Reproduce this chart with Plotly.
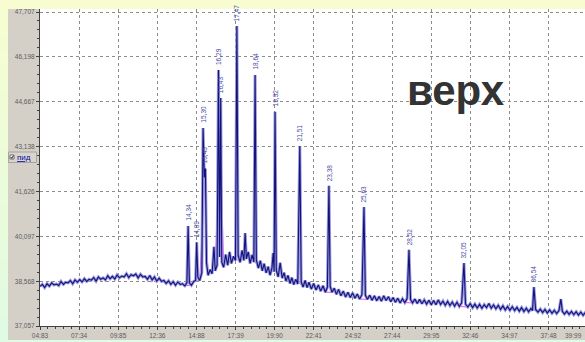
import plotly.graph_objects as go

# ---------------------------------------------------------------------------
# Chromatogram data: retention time (min) and detector signal
# ---------------------------------------------------------------------------
times = [
    4.83, 4.98, 5.13, 5.28, 5.43, 5.58, 5.73, 5.88, 6.03, 6.18, 6.33, 6.48, 6.63, 6.78, 6.93,
    7.08, 7.23, 7.38, 7.53, 7.68, 7.83, 7.98, 8.13, 8.28, 8.43, 8.58, 8.73, 8.88, 9.03, 9.18,
    9.33, 9.48, 9.63, 9.78, 9.93, 10.08, 10.23, 10.38, 10.53, 10.68, 10.83, 10.98, 11.13, 11.28,
    11.43, 11.58, 11.73, 11.88, 12.03, 12.18, 12.33, 12.48, 12.63, 12.78, 12.93, 13.08, 13.23,
    13.38, 13.53, 13.68, 13.83, 13.98, 14.13, 14.26, 14.34, 14.42, 14.55, 14.70, 14.82, 14.89,
    14.96, 15.08, 15.22, 15.30, 15.38, 15.45, 15.52, 15.62, 15.75, 15.88, 16.00, 16.08, 16.20,
    16.29, 16.36, 16.43, 16.50, 16.62, 16.75, 16.88, 17.00, 17.12, 17.25, 17.38, 17.47, 17.55,
    17.68, 17.80, 17.92, 18.00, 18.08, 18.20, 18.32, 18.45, 18.56, 18.64, 18.72, 18.85, 18.98,
    19.10, 19.22, 19.35, 19.48, 19.60, 19.72, 19.80, 19.86, 19.92, 20.00, 20.12, 20.25, 20.38,
    20.50, 20.62, 20.75, 20.88, 21.00, 21.12, 21.25, 21.38, 21.51, 21.60, 21.72, 21.85, 21.98,
    22.10, 22.25, 22.40, 22.55, 22.70, 22.85, 23.00, 23.15, 23.28, 23.38, 23.46, 23.58, 23.72,
    23.86, 24.00, 24.15, 24.30, 24.45, 24.60, 24.75, 24.90, 25.05, 25.20, 25.35, 25.50, 25.63,
    25.72, 25.85, 26.00, 26.15, 26.30, 26.45, 26.60, 26.75, 26.90, 27.05, 27.20, 27.35, 27.50,
    27.65, 27.80, 27.95, 28.10, 28.25, 28.40, 28.52, 28.62, 28.75, 28.90, 29.05, 29.20, 29.35,
    29.50, 29.65, 29.80, 29.95, 30.10, 30.25, 30.40, 30.55, 30.70, 30.85, 31.00, 31.15, 31.30,
    31.45, 31.60, 31.75, 31.90, 32.05, 32.15, 32.30, 32.45, 32.60, 32.75, 32.90, 33.05, 33.20,
    33.35, 33.50, 33.65, 33.80, 33.95, 34.10, 34.25, 34.40, 34.55, 34.70, 34.85, 35.00, 35.15,
    35.30, 35.45, 35.60, 35.75, 35.90, 36.05, 36.20, 36.35, 36.45, 36.54, 36.65, 36.80, 36.95,
    37.10, 37.25, 37.40, 37.55, 37.70, 37.85, 38.00, 38.15, 38.27, 38.37, 38.50, 38.65, 38.80,
    38.95, 39.10, 39.25, 39.40, 39.55, 39.70, 39.85, 39.99,
]

signal = [
    38.40, 38.47, 38.36, 38.49, 38.41, 38.52, 38.45, 38.48, 38.43, 38.57, 38.47, 38.54, 38.52, 38.60, 38.49,
    38.62, 38.54, 38.63, 38.55, 38.66, 38.57, 38.64, 38.61, 38.70, 38.58, 38.72, 38.64, 38.69, 38.62, 38.76,
    38.66, 38.74, 38.65, 38.79, 38.69, 38.75, 38.72, 38.83, 38.70, 38.80, 38.76, 38.82, 38.69, 38.81,
    38.72, 38.74, 38.64, 38.77, 38.62, 38.72, 38.58, 38.68, 38.57, 38.60, 38.50, 38.59, 38.47,
    38.56, 38.44, 38.55, 38.47, 38.49, 38.42, 38.52, 40.45, 38.52, 38.44, 38.57, 38.60, 39.90,
    38.72, 38.60, 38.87, 43.77, 42.10, 42.40, 39.20, 38.78, 38.97, 38.83, 39.74, 38.93, 39.12,
    45.74, 39.40, 44.79, 39.22, 39.05, 39.48, 39.12, 39.57, 39.18, 39.42, 39.28, 47.23, 39.45,
    39.22, 39.62, 39.28, 40.21, 39.33, 39.57, 39.18, 39.47, 39.22, 45.57, 39.30, 39.02, 39.27,
    38.93, 39.17, 38.86, 39.07, 38.78, 39.02, 39.53, 38.90, 44.32, 38.95, 38.72, 39.20, 38.68,
    38.87, 38.58, 38.77, 38.50, 38.70, 38.46, 38.64, 38.48, 43.16, 38.55, 38.38, 38.60, 38.36,
    38.54, 38.31, 38.50, 38.28, 38.45, 38.24, 38.42, 38.20, 38.37, 41.81, 38.40, 38.20, 38.34,
    38.13, 38.30, 38.08, 38.24, 38.04, 38.20, 38.02, 38.18, 38.00, 38.14, 37.97, 38.12, 41.09,
    38.10, 37.96, 38.10, 37.93, 38.08, 37.91, 38.06, 37.90, 38.08, 37.92, 38.05, 37.88, 38.02,
    37.86, 38.00, 37.84, 37.98, 37.85, 37.99, 39.64, 37.95, 37.84, 37.97, 37.82, 37.96, 37.81,
    37.94, 37.80, 37.93, 37.78, 37.92, 37.78, 37.94, 37.79, 37.90, 37.76, 37.89, 37.75, 37.87,
    37.73, 37.86, 37.72, 37.84, 39.19, 37.80, 37.70, 37.82, 37.68, 37.80, 37.67, 37.79, 37.66,
    37.78, 37.68, 37.82, 37.66, 37.77, 37.64, 37.76, 37.62, 37.74, 37.60, 37.72, 37.59, 37.71,
    37.58, 37.69, 37.56, 37.68, 37.55, 37.66, 37.54, 37.65, 37.58, 38.38, 37.62, 37.53, 37.63,
    37.51, 37.62, 37.50, 37.60, 37.49, 37.59, 37.48, 37.58, 37.97, 37.55, 37.46, 37.56, 37.45,
    37.55, 37.44, 37.54, 37.43, 37.53, 37.42, 37.52, 37.46,
]

# Retention times of the annotated peaks
peak_times = [14.34, 14.89, 15.30, 15.45, 16.29, 16.43, 17.47, 18.64, 19.92,
              21.51, 23.38, 25.63, 28.52, 32.05, 36.54]

# Axis tick labels as printed by the acquisition software
y_tick_labels = ["37,057", "38,568", "40,097", "41,626", "43,138", "44,667", "46,198", "47,707"]
x_tick_labels = ["04:83", "07:34", "09:85", "12:36", "14:88", "17:39", "19:90", "22:41",
                 "24:92", "27:44", "29:95", "32:46", "34:97", "37:48", "39:99"]

# visible end of the time window (min)
x_view_end = 39.82

channel_name = "пид"
sample_title = "верх"

# ---------------------------------------------------------------------------
W, H = 585, 342
ML, MR, MT, MB = 40, 0, 9, 16
PW, PH = W - ML - MR, H - MT - MB

y_tick_vals = [float(s.replace(",", ".")) for s in y_tick_labels]
x_tick_vals = [float(s.replace(":", ".")) for s in x_tick_labels]
y_step = (y_tick_vals[-1] - y_tick_vals[0]) / (len(y_tick_vals) - 1)
x_step = (x_tick_vals[-1] - x_tick_vals[0]) / (len(x_tick_vals) - 1)
y_top = y_tick_vals[0] + (y_tick_vals[-1] - y_tick_vals[0]) * PH / (PH - 3)


def px(x):
    return (x - ML) / PW


def py(y):
    return (H - MB - y) / PH


def mix(c1, c2, f):
    a = [int(c1[i:i + 2], 16) for i in (1, 3, 5)]
    b = [int(c2[i:i + 2], 16) for i in (1, 3, 5)]
    return "#" + "".join(f"{round(a[k] + (b[k] - a[k]) * f):02x}" for k in range(3))


TOP_BG, BOTTOM_BG, PANEL = "#f7fdd0", "#dffbe3", "#d4d0c8"

shapes = []
# light gradient frame around the window
shapes.append(dict(type="rect", xref="paper", yref="paper", x0=px(0), x1=px(W), y0=py(0), y1=py(MT),
                   fillcolor=TOP_BG, line_width=0, layer="below"))
n_strips = 24
for k in range(n_strips):
    y0 = MT + (H - MT) * k / n_strips
    y1 = MT + (H - MT) * (k + 1) / n_strips
    shapes.append(dict(type="rect", xref="paper", yref="paper", x0=px(0), x1=px(8), y0=py(y0), y1=py(y1 + 0.5),
                       fillcolor=mix(TOP_BG, BOTTOM_BG, (k + 0.5) / n_strips), line_width=0, layer="below"))
shapes.append(dict(type="rect", xref="paper", yref="paper", x0=px(8), x1=px(W), y0=py(340), y1=py(H),
                   fillcolor=BOTTOM_BG, line_width=0, layer="below"))
# grey axis panels
shapes.append(dict(type="rect", xref="paper", yref="paper", x0=px(8), x1=px(ML), y0=py(MT), y1=py(340),
                   fillcolor=PANEL, line_width=0, layer="below"))
shapes.append(dict(type="rect", xref="paper", yref="paper", x0=px(ML), x1=px(W), y0=py(H - MB), y1=py(340),
                   fillcolor=PANEL, line_width=0, layer="below"))
# channel check box
shapes.append(dict(type="rect", xref="paper", yref="paper", x0=px(8.5), x1=px(36.5), y0=py(152), y1=py(162.5),
                   fillcolor="#d8d4cc", line=dict(color="#a4a4a4", width=1), layer="above"))
shapes.append(dict(type="rect", xref="paper", yref="paper", x0=px(10), x1=px(14), y0=py(155), y1=py(159),
                   fillcolor="#ffffff", line=dict(color="#505050", width=0.8), layer="above"))
shapes.append(dict(type="path", xref="paper", yref="paper",
                   path=f"M {px(10.8)},{py(157)} L {px(11.8)},{py(158.3)} L {px(13.3)},{py(155.7)}",
                   line=dict(color="#101010", width=0.9), layer="above"))

fig = go.Figure()

# integration baselines under the annotated peaks
base_x, base_y = [], []
for t in peak_times:
    i = times.index(t)
    base_x += [times[i - 2], times[i + 2], None]
    base_y += [signal[i - 2], signal[i + 2], None]
fig.add_trace(go.Scatter(x=base_x, y=base_y, mode="lines", line=dict(color="#ff44ff", width=1),
                         hoverinfo="skip"))

# detector trace: soft halo plus dark core
fig.add_trace(go.Scatter(x=times, y=signal, mode="lines", line=dict(color="#9a9ade", width=3),
                         hoverinfo="skip"))
fig.add_trace(go.Scatter(x=times, y=signal, mode="lines", line=dict(color="#12127a", width=1.1),
                         name=channel_name))

tick_font = dict(family="Liberation Sans Narrow, Liberation Sans", size=6.5, color="#5c5c5c")

annotations = []
for t in peak_times:
    v = signal[times.index(t)]
    annotations.append(dict(x=t, y=v, xref="x", yref="y", text=f"{t:.2f}".replace(".", ","),
                            textangle=-90, showarrow=False, xanchor="center", yanchor="bottom", yshift=3,
                            font=dict(family="Liberation Sans Narrow, Liberation Sans", size=6.5,
                                      color="#4a4aa4")))
# last time label is pushed inside the right edge of the window
annotations.append(dict(x=1, y=py(H - MB + 4), xref="paper", yref="paper", text=x_tick_labels[-1],
                        showarrow=False, xanchor="right", yanchor="top", xshift=-1,
                        font=tick_font))
annotations.append(dict(x=px(14.5), y=py(157.5), xref="paper", yref="paper", text=f"<u>{channel_name}</u>",
                        showarrow=False, xanchor="left", yanchor="middle",
                        font=dict(family="Liberation Sans", size=8, color="#0a0a9c")))
annotations.append(dict(x=px(455.5), y=py(91), xref="paper", yref="paper", text=f"<b>{sample_title}</b>",
                        showarrow=False, xanchor="center", yanchor="middle",
                        font=dict(family="Liberation Sans", size=42, color="#333333")))

fig.update_layout(
    width=W, height=H,
    margin=dict(l=ML, r=MR, t=MT, b=MB, pad=0),
    paper_bgcolor=mix(TOP_BG, BOTTOM_BG, 0.5),
    plot_bgcolor="#ffffff",
    showlegend=False,
    shapes=shapes,
    annotations=annotations,
    xaxis=dict(
        range=[x_tick_vals[0], x_view_end],
        tickmode="array", tickvals=x_tick_vals[:-1], ticktext=x_tick_labels[:-1],
        ticks="outside", ticklen=3, tickcolor="#404040", tickwidth=1,
        minor=dict(tickmode="linear", tick0=x_tick_vals[0], dtick=x_step / 5, ticks="outside",
                   ticklen=2, tickcolor="#404040", showgrid=False),
        showline=True, linecolor="#404040", linewidth=1,
        showgrid=True, gridcolor="#8c8c8c", griddash="dot", gridwidth=1,
        zeroline=False, tickfont=tick_font, ticklabeloverflow="allow", fixedrange=True,
    ),
    yaxis=dict(
        range=[y_tick_vals[0], y_top],
        tickmode="array", tickvals=y_tick_vals, ticktext=y_tick_labels,
        ticks="outside", ticklen=3, tickcolor="#404040", tickwidth=1,
        minor=dict(tickmode="linear", tick0=y_tick_vals[0], dtick=y_step / 5, ticks="outside",
                   ticklen=2, tickcolor="#404040", showgrid=False),
        showline=True, linecolor="#404040", linewidth=1,
        showgrid=True, gridcolor="#8c8c8c", griddash="dot", gridwidth=1,
        zeroline=False, tickfont=tick_font, fixedrange=True,
    ),
)

fig.write_html("out.html", config={"displayModeBar": False, "staticPlot": True})
